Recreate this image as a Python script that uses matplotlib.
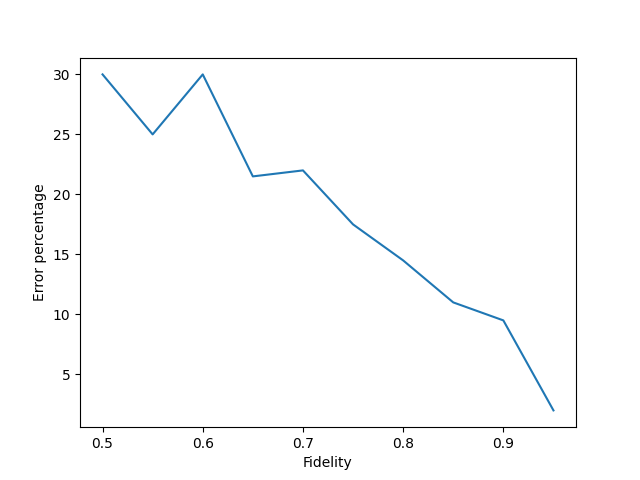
import matplotlib
matplotlib.use("Agg")
import matplotlib.pyplot as plt

fidelity = [0.5, 0.55, 0.6, 0.65, 0.7, 0.75, 0.8, 0.85, 0.9, 0.95]
error = [30, 25, 30, 21.5, 22, 17.5, 14.5, 11, 9.5, 2]

fig, ax = plt.subplots(figsize=(6.4, 4.8), dpi=100)
ax.plot(fidelity, error)
ax.set_xlabel("Fidelity")
ax.set_ylabel("Error percentage")
fig.savefig("out.png")
